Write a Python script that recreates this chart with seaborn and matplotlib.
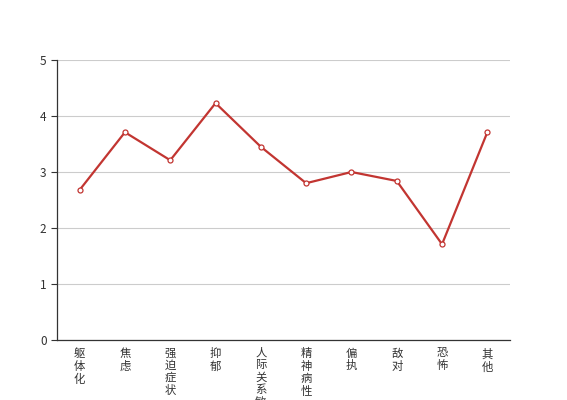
import numpy as np
import pandas as pd
import matplotlib
matplotlib.use("Agg")
import matplotlib.pyplot as plt
import seaborn as sns
from matplotlib.ticker import FixedLocator

categories = ['躯体化', '焦虑', '强迫症状', '抑郁', '人际关系敏感', '精神病性', '偏执', '敌对', '恐怖', '其他']
scores = [2.68, 3.71, 3.21, 4.23, 3.45, 2.80, 3.00, 2.84, 1.71, 3.71]

sns.set_style('white')
plt.rcParams['font.family'] = ['Noto Sans CJK SC', 'DejaVu Sans']

df = pd.DataFrame({'cat': categories, 'score': scores})
df['pos'] = np.arange(len(categories))

fig = plt.figure(figsize=(5.67, 4.0), dpi=100)
ax = fig.add_axes([57 / 567, 60 / 400, 453 / 567, 280 / 400])

sns.lineplot(data=df, x='pos', y='score', ax=ax, color='#c23531', linewidth=1.6,
             marker='o', markersize=3.6, markerfacecolor='white',
             markeredgecolor='#c23531', markeredgewidth=0.9, zorder=3)

ax.set_xlim(-0.5, len(categories) - 0.5)
ax.set_ylim(0, 5)
ax.set_yticks([0, 1, 2, 3, 4, 5])
ax.yaxis.grid(True, color='#cccccc', linewidth=0.8)
ax.set_axisbelow(True)

ax.set_xticks(df['pos'])
ax.set_xticklabels(['\n'.join(c) for c in categories], fontsize=8.2,
                   color='#333333', linespacing=1.2, va='top')
ax.tick_params(axis='x', which='major', length=0, pad=6)
ax.xaxis.set_minor_locator(FixedLocator(np.arange(-0.5, len(categories), 1.0)))
ax.tick_params(axis='x', which='minor', length=4, color='#333333', width=0.8)
ax.tick_params(axis='y', length=4, color='#333333', width=0.8, labelsize=8.5,
               labelcolor='#333333', left=True)

for s in ['top', 'right']:
    ax.spines[s].set_visible(False)
for s in ['left', 'bottom']:
    ax.spines[s].set_color('#333333')
    ax.spines[s].set_linewidth(0.9)

ax.set_xlabel('')
ax.set_ylabel('')

fig.savefig('out.png', dpi=100)
